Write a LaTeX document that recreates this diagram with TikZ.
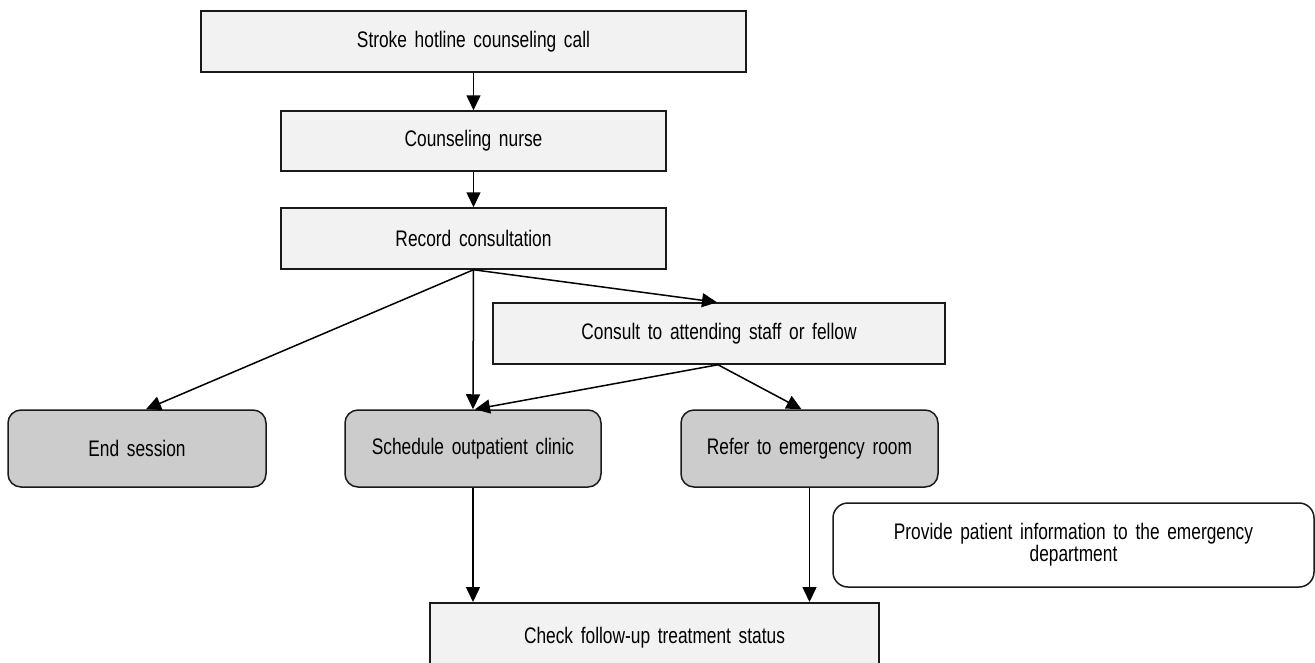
\documentclass[tikz,border=0pt]{standalone}
\usepackage{fontspec}
\setmainfont[FakeStretch=0.77,WordSpace=1.6]{Liberation Sans}
\usetikzlibrary{arrows.meta,calc}
\definecolor{lightfill}{HTML}{F2F2F2}
\definecolor{darkfill}{HTML}{CCCCCC}
\definecolor{edge}{HTML}{1A1A1A}
\tikzset{
  boxfont/.style={font=\fontsize{22.5pt}{19.5pt}\selectfont},
  sqbox/.style={draw=edge,line width=1.5pt,fill=lightfill,rectangle,inner sep=0pt,align=center,boxfont},
  rbox/.style={draw=edge,line width=1.5pt,fill=darkfill,rectangle,rounded corners=13pt,inner sep=0pt,align=center,boxfont},
  wbox/.style={draw=edge,line width=1.5pt,fill=white,rectangle,rounded corners=15pt,inner sep=0pt,align=center,boxfont},
  arr/.style={draw=black,line width=1.5pt,-{Triangle[length=15pt,width=14pt]}}
}
\begin{document}
\begin{tikzpicture}[x=1pt,y=-1pt]
\useasboundingbox (0,0) rectangle (1315,662);
\clip (0,0) rectangle (1315,662);
\node[sqbox,minimum width=545pt,minimum height=61pt] (top) at (473.5,41.5) {Stroke hotline counseling call};
\node[sqbox,minimum width=385pt,minimum height=60pt] (nurse) at (473.5,141) {Counseling nurse};
\node[sqbox,minimum width=385pt,minimum height=61pt] (record) at (473.5,238.5) {Record consultation};
\node[sqbox,minimum width=452pt,minimum height=61pt] (consult) at (719,333.5) {Consult to attending staff or fellow};
\node[rbox,minimum width=258pt,minimum height=77pt] (endS) at (137,448.5) {End session};
\node[rbox,minimum width=256pt,minimum height=77pt] (sched) at (473,448.5) {Schedule outpatient clinic};
\node[rbox,minimum width=257pt,minimum height=77pt] (refer) at (809.5,448.5) {Refer to emergency room};
\node[wbox,minimum width=481pt,minimum height=84pt] (provide) at (1073.5,545) {Provide patient information to the emergency\\department};
\node[sqbox,minimum width=449pt,minimum height=70pt,anchor=north] (check) at (654.5,602) {Check follow-up treatment status};

\draw[arr] (top.south) -- (nurse.north);
\draw[arr] (nurse.south) -- (record.north);
\draw[arr] (record.south) -- ($(endS.north)+(9,0)$);
\draw[arr] (record.south) -- (sched.north);
\draw[arr] (record.south) -- ($(consult.north)+(-2,0)$);
\draw[arr] ($(consult.south)+(-1,0)$) -- ($(sched.north)+(2,0)$);
\draw[arr] ($(consult.south)+(-1,0)$) -- ($(refer.north)+(-8,0)$);
\draw[arr] (sched.south) -- (sched.south |- check.north);
\draw[arr] (refer.south) -- (refer.south |- check.north);
\end{tikzpicture}
\end{document}
